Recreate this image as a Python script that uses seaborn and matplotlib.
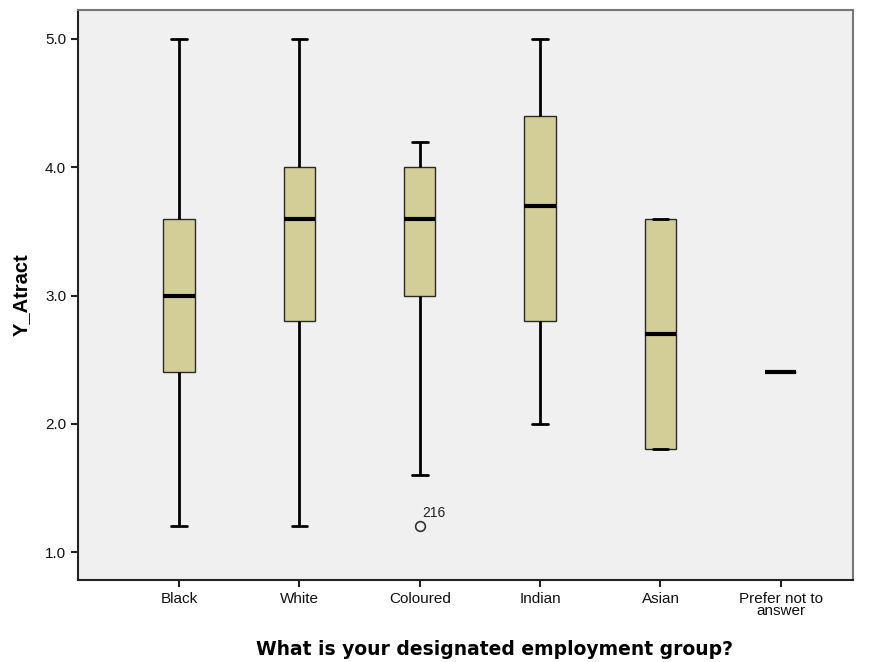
import pandas as pd
import seaborn as sns
import matplotlib.pyplot as plt

# Box summaries
groups = ["Black", "White", "Coloured", "Indian", "Asian", "Prefer not to\nanswer"]
whisker_lo = [1.2, 1.2, 1.6, 2.0, 1.8, 2.4]
q1 = [2.4, 2.8, 3.0, 2.8, 1.8, 2.4]
median = [3.0, 3.6, 3.6, 3.7, 2.7, 2.4]
q3 = [3.6, 4.0, 4.0, 4.4, 3.6, 2.4]
whisker_hi = [5.0, 5.0, 4.2, 5.0, 3.6, 2.4]
outlier_group = ["Coloured"]
outlier_value = [1.2]
outlier_case = ["216"]
yticks = [1.0, 2.0, 3.0, 4.0, 5.0]

# Nine points per group so that numpy's quartiles land exactly on the read values
rows = []
for i, g in enumerate(groups):
    vals = [whisker_lo[i], whisker_lo[i], q1[i], median[i], median[i], median[i],
            q3[i], whisker_hi[i], whisker_hi[i]]
    if g in outlier_group:
        vals[0] = outlier_value[outlier_group.index(g)]
    rows += [(g, v) for v in vals]
df = pd.DataFrame(rows, columns=["group", "Y_Atract"])

sns.set_theme(style="ticks", rc={"axes.facecolor": "#f0f0f0"})
plt.rcParams["font.family"] = ["Liberation Sans", "DejaVu Sans"]

fig = plt.figure(figsize=(8.69, 6.62), dpi=100)
ax = fig.add_axes([0.0898, 0.1239, 0.8918, 0.8610])

sns.boxplot(data=df, x="group", y="Y_Atract", order=groups, width=0.26,
            color="#d3ce98", saturation=1, linecolor="#2a2a2a", linewidth=1.0, ax=ax,
            whiskerprops={"color": "black", "linewidth": 2.0},
            capprops={"color": "black", "linewidth": 2.0},
            medianprops={"color": "black", "linewidth": 3.0},
            flierprops={"marker": "o", "markerfacecolor": "none",
                        "markeredgecolor": "#333333", "markersize": 7,
                        "markeredgewidth": 1.2})

for g, v, c in zip(outlier_group, outlier_value, outlier_case):
    ax.annotate(c, (groups.index(g), v), xytext=(2, 7), textcoords="offset points",
                fontsize=10, color="#222222")

ax.set_xlim(-0.84, 5.6)
ax.set_ylim(0.782, 5.226)
ax.set_yticks(yticks)
ax.set_yticklabels([f"{t:.1f}" for t in yticks])
ax.tick_params(axis="both", length=5, width=1.5, color="#222222", labelsize=11,
               labelcolor="#111111")
for lab in ax.get_xticklabels():
    lab.set_linespacing(0.85)

for s in ["left", "bottom"]:
    ax.spines[s].set_color("#222222")
    ax.spines[s].set_linewidth(1.5)
for s in ["top", "right"]:
    ax.spines[s].set_color("#777777")
    ax.spines[s].set_linewidth(1.5)

ax.set_xlabel("What is your designated employment group?", fontsize=13.5,
              fontweight="bold", family="DejaVu Sans", color="black")
ax.xaxis.set_label_coords(0.538, -0.105)
ax.set_ylabel("Y_Atract", fontsize=14.5, fontweight="bold", family="Liberation Sans",
              labelpad=10, color="black")

fig.savefig("out.png", dpi=100)
